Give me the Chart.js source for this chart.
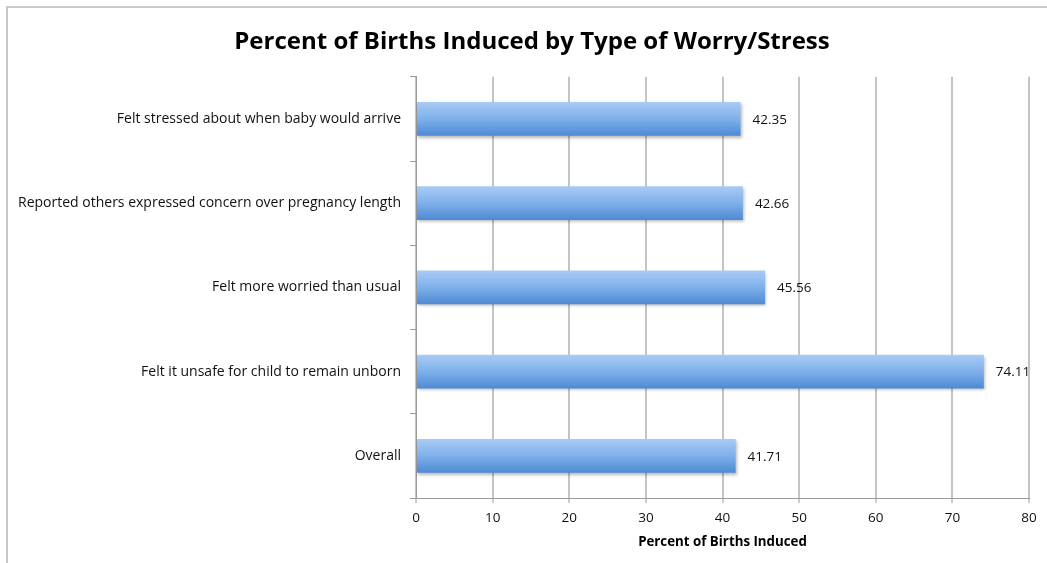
<!DOCTYPE html>
<html>
<head>
<meta charset="utf-8">
<script src="https://cdn.jsdelivr.net/npm/chart.js@4/dist/chart.umd.min.js"></script>
<style>
  html, body { margin: 0; padding: 0; background: #fff; }
  #wrap { position: relative; width: 1047px; height: 563px; overflow: hidden; }
  #frame {
    position: absolute; left: 6px; top: 6px; width: 1100px; height: 600px;
    border-left: 2px solid #c9c9c9; border-top: 2px solid #c9c9c9;
  }
  #worryChart { position: absolute; left: 0; top: 0; }
</style>
</head>
<body>
<div id="wrap">
  <div id="frame"></div>
  <canvas id="worryChart" width="1047" height="563"></canvas>
</div>
<script>
// Categories, top to bottom
const categories = [
    "Felt stressed about when baby would arrive",
    "Reported others expressed concern over pregnancy length",
    "Felt more worried than usual",
    "Felt it unsafe for child to remain unborn",
    "Overall"
];

// Percent of births induced for each category
const inducedPct = [42.35, 42.66, 45.56, 74.11, 41.71];

// X axis ticks
const xTicks = [0, 10, 20, 30, 40, 50, 60, 70, 80];

const FONT = "'Open Sans', 'DejaVu Sans', sans-serif";
const BAR_PCT = 0.4;

// Vertical gradient for each bar, built from the y scale band
function barGradient(context) {
    const chart = context.chart;
    const yScale = chart.scales.y;
    if (!yScale || context.dataIndex === undefined) return '#7fb0ea';
    const center = yScale.getPixelForValue(context.dataIndex);
    const band = yScale.height / categories.length;
    const half = band * BAR_PCT / 2;
    if (!isFinite(center) || !isFinite(half) || half <= 0) return '#7fb0ea';
    const g = chart.ctx.createLinearGradient(0, center - half, 0, center + half);
    g.addColorStop(0, '#a9cbf6');
    g.addColorStop(0.5, '#7fb0ea');
    g.addColorStop(1, '#4d8ad4');
    return g;
}

// Nudge the title box so the heading sits a little right of the canvas centre
const titleShift = {
    id: 'titleShift',
    afterLayout(chart) {
        const t = chart.titleBlock;
        if (t) {
            t.left += 35;
        }
    }
};

// Soft shadow under the bars
const barShadow = {
    id: 'barShadow',
    beforeDatasetsDraw(chart) {
        const ctx = chart.ctx;
        ctx.save();
        ctx.shadowColor = 'rgba(0, 0, 0, 0.28)';
        ctx.shadowBlur = 3;
        ctx.shadowOffsetX = 1;
        ctx.shadowOffsetY = 2;
    },
    afterDatasetsDraw(chart) {
        chart.ctx.restore();
    }
};

// Value labels at the end of each bar
const valueLabels = {
    id: 'valueLabels',
    afterDatasetsDraw(chart) {
        const ctx = chart.ctx;
        const meta = chart.getDatasetMeta(0);
        ctx.save();
        ctx.font = "13.5px " + FONT;
        ctx.fillStyle = '#111';
        ctx.textAlign = 'left';
        ctx.textBaseline = 'middle';
        meta.data.forEach((bar, i) => {
            ctx.fillText(inducedPct[i].toFixed(2), bar.x + 12, bar.y + 1);
        });
        ctx.restore();
    }
};

const ctx = document.getElementById('worryChart').getContext('2d');

new Chart(ctx, {
    type: 'bar',
    data: {
        labels: categories,
        datasets: [{
            label: 'Percent of Births Induced',
            data: inducedPct,
            backgroundColor: barGradient,
            borderWidth: 0,
            barPercentage: BAR_PCT,
            categoryPercentage: 1
        }]
    },
    options: {
        indexAxis: 'y',
        responsive: false,
        animation: false,
        layout: { padding: { left: 0, right: 18, top: 0, bottom: 0 } },
        plugins: {
            legend: { display: false },
            tooltip: { enabled: false },
            title: {
                display: true,
                text: 'Percent of Births Induced by Type of Worry/Stress',
                color: '#000',
                font: { family: FONT, size: 24, weight: 'bold' },
                padding: { top: 28, bottom: 20 }
            }
        },
        scales: {
            x: {
                min: 0,
                max: 80,
                afterBuildTicks(scale) {
                    scale.ticks = xTicks.map(v => ({ value: v }));
                },
                afterFit(scale) { scale.height = 65; },
                grid: {
                    color: '#c4c4c4',
                    lineWidth: 2,
                    tickLength: 5,
                    tickColor: '#9a9a9a',
                    tickWidth: 1
                },
                border: { color: '#9a9a9a', width: 1 },
                ticks: {
                    color: '#111',
                    padding: 7,
                    font: { family: FONT, size: 13.5 }
                },
                title: {
                    display: true,
                    text: 'Percent of Births Induced',
                    color: '#000',
                    font: { family: FONT, size: 13.3, weight: 'bold' },
                    padding: { top: 4, bottom: 13 }
                }
            },
            y: {
                afterFit(scale) { scale.width = 416; },
                grid: {
                    drawOnChartArea: false,
                    offset: true,
                    tickLength: 6,
                    color: '#9a9a9a'
                },
                border: { color: '#9a9a9a', width: 1 },
                ticks: {
                    color: '#111',
                    padding: 9,
                    font: { family: FONT, size: 14 }
                }
            }
        }
    },
    plugins: [titleShift, barShadow, valueLabels]
});
</script>
</body>
</html>
